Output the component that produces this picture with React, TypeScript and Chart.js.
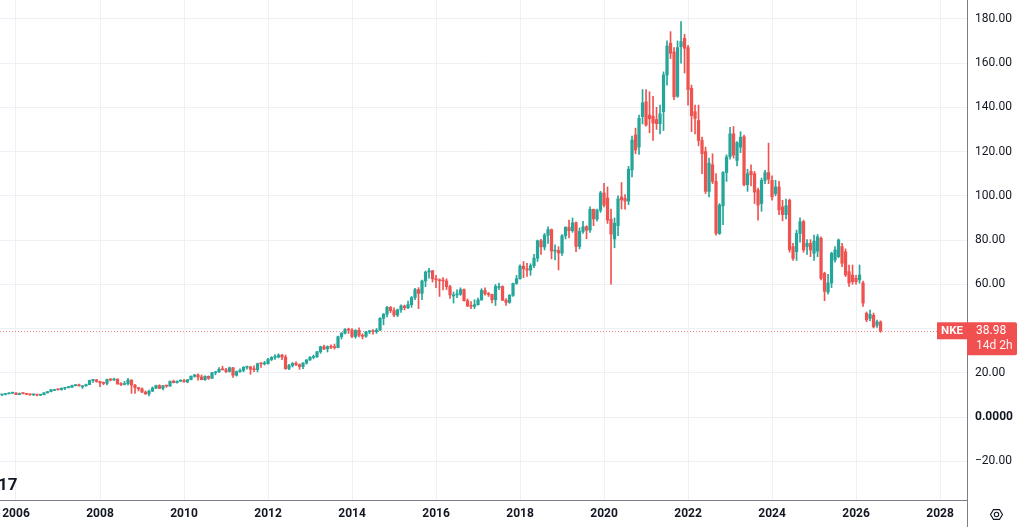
import React, { useEffect, useRef } from "react";
import { Chart, registerables } from "chart.js";

Chart.register(...registerables);

// ---- data (monthly candles, NKE) ----
const SYMBOL = "NKE";
const COUNTDOWN = "14d 2h";
const START_YEAR = 2005;
const START_MONTH = 9; // first candle: Sep 2005

const yearTicks = [2006, 2008, 2010, 2012, 2014, 2016, 2018, 2020, 2022, 2024, 2026, 2028];
const priceTicks = [-20, 0, 20, 40, 60, 80, 100, 120, 140, 160, 180];

const opens = [
  10.0, 10.2, 10.5, 10.8,
  10.85, 10.15, 10.65, 10.6, 10.2, 10.05, 10.1, 9.9, 10.1, 10.95, 11.5, 12.4,
  12.4, 12.35, 13.0, 13.3, 13.45, 14.2, 14.6, 14.1, 14.1, 14.65, 16.55, 16.8,
  16.05, 15.45, 15.2, 17.0, 16.7, 17.1, 14.9, 14.7, 15.1, 16.7, 14.4, 13.3,
  12.75, 11.3, 10.45, 11.7, 13.1, 14.25, 12.95, 14.15, 14.0, 16.2, 15.55, 16.2,
  16.5, 15.9, 16.9, 18.4, 19.0, 18.1, 16.9, 18.4, 17.5, 20.0, 20.4, 21.6,
  21.35, 20.6, 22.25, 18.9, 20.6, 21.1, 22.5, 22.6, 21.6, 21.4, 24.1, 24.0,
  24.1, 26.0, 27.0, 27.1, 28.0, 27.1, 21.9, 23.3, 24.3, 23.7, 22.8, 24.4,
  25.8, 27.0, 27.2, 29.5, 31.8, 30.8, 31.8, 31.5, 31.4, 36.3, 37.9, 39.6,
  39.3, 36.4, 39.2, 36.9, 36.5, 38.5, 38.8, 38.6, 39.3, 44.6, 46.5, 49.6,
  48.1, 46.1, 48.5, 50.2, 49.4, 50.8, 54.0, 57.6, 55.9, 61.5, 65.5, 66.1,
  62.5, 62.0, 61.6, 61.5, 58.9, 55.2, 55.2, 55.5, 57.6, 52.6, 50.2, 50.0,
  50.8, 52.9, 57.2, 55.7, 55.4, 53.0, 59.0, 59.0, 52.8, 51.8, 55.0, 60.4,
  62.5, 68.2, 67.0, 66.4, 68.4, 71.8, 79.7, 76.9, 82.2, 84.7, 75.0, 75.3,
  74.1, 81.9, 85.8, 84.2, 87.8, 77.1, 83.9, 86.0, 84.5, 93.9, 89.5, 93.5,
  101.3, 99.0, 89.4, 80.5, 86.5, 99.5, 98.8, 97.6, 111.7, 127.5, 122.0, 135.8,
  142.5, 136.5, 136.0, 134.5, 132.6, 138.0, 154.6, 169.0, 165.0, 145.0, 167.4, 171.2,
  167.0, 148.6, 138.0, 134.0, 125.0, 120.0, 102.0, 114.0, 106.5, 83.0, 95.5, 110.5,
  117.7, 128.0, 116.0, 122.0, 126.7, 105.0, 111.0, 110.0, 102.6, 96.5, 107.0, 110.5,
  107.0, 101.0, 104.0, 95.0, 91.5, 98.0, 77.0, 74.7, 83.0, 88.3, 77.0, 78.5,
  74.0, 75.0, 80.8, 65.0, 56.5, 60.6, 71.0, 72.5, 77.0, 74.7, 65.7, 64.2,
  62.7, 62.0, 60.6, 46.9, 44.6, 46.0, 41.5, 43.0,
];

const highs = [
  10.3, 10.6, 10.9, 11.1,
  11.0, 10.9, 10.9, 10.8, 10.4, 10.3, 10.2, 10.2, 11.0, 11.6, 12.45, 12.6,
  12.6, 13.2, 13.4, 13.8, 14.4, 14.7, 14.9, 14.3, 14.9, 16.7, 16.9, 17.0,
  16.2, 15.9, 17.2, 17.4, 17.6, 17.3, 15.6, 16.1, 17.5, 16.9, 14.8, 13.4,
  13.2, 11.8, 12.2, 13.6, 14.5, 14.6, 14.3, 14.4, 16.3, 16.7, 16.4, 16.9,
  17.0, 17.0, 18.6, 19.3, 19.5, 19.0, 18.6, 18.6, 20.2, 20.6, 22.4, 23.0,
  22.0, 22.6, 22.5, 20.8, 21.8, 22.8, 23.0, 23.0, 23.2, 24.4, 24.6, 25.2,
  26.5, 27.3, 28.2, 28.6, 28.3, 28.0, 23.8, 24.6, 25.0, 24.0, 24.6, 26.0,
  27.3, 28.0, 29.7, 32.0, 32.5, 32.2, 32.6, 33.0, 36.6, 38.2, 40.0, 40.2,
  40.0, 39.5, 40.3, 37.6, 38.7, 39.2, 39.5, 40.0, 45.0, 46.8, 50.0, 50.0,
  49.4, 48.8, 50.7, 50.6, 52.4, 54.5, 58.2, 58.5, 61.9, 66.0, 67.2, 66.3,
  64.0, 62.5, 63.0, 62.5, 59.5, 56.5, 57.5, 58.4, 58.0, 53.4, 52.2, 53.0,
  53.8, 58.0, 58.4, 56.3, 55.6, 59.9, 60.5, 59.3, 53.5, 55.4, 60.6, 64.0,
  68.8, 70.3, 69.5, 69.3, 73.5, 80.0, 80.3, 83.0, 86.0, 85.0, 77.8, 77.0,
  82.5, 86.0, 89.0, 90.0, 88.2, 85.5, 88.5, 86.5, 95.0, 94.0, 94.0, 102.0,
  105.6, 104.0, 94.0, 90.0, 100.0, 106.0, 100.5, 113.3, 127.0, 130.6, 136.5, 148.0,
  148.0, 147.0, 145.0, 140.0, 141.0, 156.0, 170.0, 174.2, 167.0, 170.0, 178.7, 173.0,
  168.0, 150.0, 141.0, 141.0, 126.5, 122.0, 117.0, 119.0, 110.0, 96.5, 111.0, 118.5,
  131.0, 131.3, 124.5, 129.0, 127.5, 112.0, 114.0, 111.0, 103.5, 108.0, 111.5, 123.8,
  109.0, 107.0, 106.5, 98.0, 98.5, 98.5, 78.5, 84.5, 90.0, 89.0, 80.2, 80.2,
  82.3, 82.5, 81.5, 65.5, 64.5, 74.5, 77.0, 80.5, 78.5, 76.0, 68.7, 68.7,
  64.0, 68.7, 61.5, 47.5, 48.3, 47.0, 43.8, 43.5,
];

const lows = [
  9.7, 10.0, 10.4, 10.6,
  10.1, 10.1, 10.5, 10.1, 9.8, 9.7, 9.6, 9.65, 10.0, 10.8, 11.4, 12.1,
  12.1, 12.2, 12.4, 13.1, 13.4, 14.0, 14.0, 12.9, 13.9, 14.6, 15.7, 15.7,
  13.7, 14.6, 14.5, 16.3, 16.5, 14.9, 14.2, 14.5, 14.5, 10.7, 10.7, 11.8,
  11.0, 10.2, 9.56, 11.5, 12.8, 12.8, 12.3, 13.4, 13.8, 15.4, 15.3, 16.0,
  15.8, 15.5, 16.8, 18.0, 16.7, 16.8, 16.5, 17.0, 17.4, 19.1, 20.2, 21.2,
  20.0, 20.3, 17.9, 18.5, 20.2, 20.4, 21.6, 19.3, 20.5, 20.4, 22.4, 23.5,
  23.9, 25.5, 26.0, 26.7, 25.9, 21.5, 21.4, 22.6, 23.2, 21.6, 21.9, 23.9,
  25.6, 26.3, 27.0, 28.8, 30.4, 29.4, 30.9, 30.7, 31.2, 35.2, 37.6, 37.8,
  35.9, 35.6, 36.2, 35.3, 36.0, 37.7, 37.4, 37.8, 39.0, 41.7, 45.3, 47.2,
  45.4, 45.4, 47.3, 48.4, 49.0, 49.6, 53.0, 49.0, 53.0, 58.9, 62.8, 61.0,
  58.5, 54.5, 57.5, 57.6, 53.6, 51.5, 54.0, 55.0, 52.4, 49.9, 49.0, 49.0,
  50.6, 52.8, 55.1, 54.5, 51.6, 50.4, 57.6, 52.6, 50.4, 51.4, 54.5, 60.0,
  62.3, 63.0, 63.6, 64.1, 67.5, 70.3, 73.5, 75.5, 78.5, 71.5, 71.0, 66.5,
  73.0, 80.5, 81.0, 83.5, 74.8, 76.0, 83.0, 80.6, 83.5, 86.5, 88.5, 92.5,
  95.0, 87.5, 60.0, 76.5, 82.0, 94.0, 94.0, 96.0, 108.5, 119.0, 118.7, 132.5,
  131.5, 128.5, 125.0, 130.0, 128.0, 129.5, 150.0, 162.0, 143.5, 144.5, 160.0, 155.5,
  141.0, 129.0, 128.0, 122.6, 110.0, 101.0, 99.5, 105.5, 82.2, 82.5, 87.0, 106.5,
  116.5, 117.0, 113.5, 119.5, 104.5, 102.0, 104.5, 96.5, 89.0, 93.0, 105.5, 105.5,
  98.0, 100.0, 91.5, 88.7, 89.5, 74.5, 70.8, 70.8, 79.0, 74.5, 73.5, 72.5,
  70.8, 72.5, 62.0, 52.6, 55.5, 58.5, 70.0, 72.0, 68.0, 63.5, 59.0, 60.0,
  60.0, 60.5, 50.0, 43.1, 43.5, 40.3, 40.5, 38.3,
];

const closes = [
  10.2, 10.5, 10.8, 10.85,
  10.15, 10.65, 10.6, 10.2, 10.05, 10.1, 9.9, 10.1, 10.95, 11.5, 12.4, 12.4,
  12.35, 13.0, 13.3, 13.45, 14.2, 14.6, 14.1, 14.1, 14.65, 16.55, 16.8, 16.05,
  15.45, 15.2, 17.0, 16.7, 17.1, 14.9, 14.7, 15.1, 16.7, 14.4, 13.3, 12.75,
  11.3, 10.45, 11.7, 13.1, 14.25, 12.95, 14.15, 14.0, 16.2, 15.55, 16.2, 16.5,
  15.9, 16.9, 18.4, 19.0, 18.1, 16.9, 18.4, 17.5, 20.0, 20.4, 21.6, 21.35,
  20.6, 22.25, 18.9, 20.6, 21.1, 22.5, 22.6, 21.6, 21.4, 24.1, 24.0, 24.1,
  26.0, 27.0, 27.1, 28.0, 27.1, 21.9, 23.3, 24.3, 23.7, 22.8, 24.4, 25.8,
  27.0, 27.2, 29.5, 31.8, 30.8, 31.8, 31.5, 31.4, 36.3, 37.9, 39.6, 39.3,
  36.4, 39.2, 36.9, 36.5, 38.5, 38.8, 38.6, 39.3, 44.6, 46.5, 49.6, 48.1,
  46.1, 48.5, 50.2, 49.4, 50.8, 54.0, 57.6, 55.9, 61.5, 65.5, 66.1, 62.5,
  62.0, 61.6, 61.5, 58.9, 55.2, 55.2, 55.5, 57.6, 52.6, 50.2, 50.0, 50.8,
  52.9, 57.2, 55.7, 55.4, 53.0, 59.0, 59.0, 52.8, 51.8, 55.0, 60.4, 62.5,
  68.2, 67.0, 66.4, 68.4, 71.8, 79.7, 76.9, 82.2, 84.7, 75.0, 75.3, 74.1,
  81.9, 85.8, 84.2, 87.8, 77.1, 83.9, 86.0, 84.5, 93.9, 89.5, 93.5, 101.3,
  95.8, 89.0, 82.7, 87.6, 98.6, 98.1, 97.6, 112.0, 125.2, 120.7, 135.0, 142.0,
  132.0, 134.8, 132.9, 132.6, 137.0, 154.6, 167.7, 164.4, 144.8, 167.0, 169.7, 166.7,
  148.0, 136.2, 135.0, 125.0, 119.0, 102.0, 114.7, 106.5, 83.0, 95.8, 110.5, 117.5,
  128.0, 118.4, 124.0, 126.5, 105.0, 110.0, 109.5, 101.7, 95.8, 107.0, 110.5, 107.5,
  99.5, 104.0, 93.6, 91.5, 95.5, 75.6, 71.7, 83.0, 88.3, 75.5, 78.5, 75.5,
  79.5, 81.5, 62.7, 56.8, 60.6, 74.0, 75.5, 80.0, 69.5, 64.2, 60.6, 61.2,
  61.2, 64.2, 51.5, 43.9, 46.4, 40.8, 43.0, 38.98,
];

// ---- styling ----
const UP = "#26a69a";
const DOWN = "#ef5350";
const TAG = "#f0504f";
const DOTS = "#f28b8a";
const GRID = "#eef0f5";
const AXIS_LINE = "#7b7e86";
const TEXT = "#131722";
const FONT = "Roboto, 'Liberation Sans', sans-serif";

// axis ranges (months since Jan 2006, price)
const X_MIN = -4.57;
const X_MAX = 271.7;
const Y_MIN = -37.5;
const Y_MAX = 188.5;

const monthIndex = (i: number) => (START_YEAR - 2006) * 12 + (START_MONTH - 1) + i;

function fmtPrice(v: number) {
  if (v === 0) return "0.0000";
  const s = Math.abs(v).toFixed(2);
  return v < 0 ? "\u2212" + s : s;
}

const overlayPlugin = {
  id: "tvOverlay",
  beforeDatasetsDraw(chart: any) {
    const { ctx, chartArea, scales } = chart;
    const last = closes[closes.length - 1];
    const py = Math.round(scales.y.getPixelForValue(last)) + 0.5;
    ctx.save();
    ctx.strokeStyle = DOTS;
    ctx.lineWidth = 1;
    ctx.setLineDash([1, 2]);
    ctx.beginPath();
    ctx.moveTo(chartArea.left, py);
    ctx.lineTo(chartArea.right - 30, py);
    ctx.stroke();
    ctx.restore();
  },
  afterDraw(chart: any) {
    const { ctx, chartArea, scales } = chart;
    const W = chart.width;
    const H = chart.height;
    const right = chartArea.right;
    const last = closes[closes.length - 1];
    const py = scales.y.getPixelForValue(last);
    ctx.save();
    // axis line extension below the time axis
    ctx.strokeStyle = AXIS_LINE;
    ctx.lineWidth = 1;
    ctx.beginPath();
    ctx.moveTo(Math.round(right) + 0.5, chartArea.bottom);
    ctx.lineTo(Math.round(right) + 0.5, H);
    ctx.stroke();

    // symbol tag
    ctx.fillStyle = TAG;
    ctx.fillRect(right - 30, py - 8.5, 30, 17);
    // price tag
    ctx.beginPath();
    (ctx as any).roundRect(right, py - 8.5, 50, 33, [0, 2, 2, 0]);
    ctx.fill();
    ctx.fillStyle = "#ffffff";
    ctx.textBaseline = "middle";
    ctx.font = `bold 11.5px ${FONT}`;
    ctx.textAlign = "center";
    ctx.fillText(SYMBOL, right - 15, py + 0.5);
    ctx.font = `12px ${FONT}`;
    ctx.textAlign = "left";
    ctx.fillText(last.toFixed(2), right + 9, py + 0.5);
    ctx.fillStyle = "rgba(255,255,255,0.92)";
    ctx.fillText(COUNTDOWN, right + 9, py + 15.5);

    // logo (cropped)
    ctx.fillStyle = TEXT;
    ctx.font = `bold 17px ${FONT}`;
    ctx.textAlign = "left";
    ctx.textBaseline = "alphabetic";
    ctx.fillText("17", -2, 490);

    // settings icon
    const cx = right + (W - right) / 2 + 1;
    const cy = chartArea.bottom + (H - chartArea.bottom) / 2 + 1;
    ctx.strokeStyle = TEXT;
    ctx.lineWidth = 1.1;
    ctx.beginPath();
    for (let k = 0; k < 6; k++) {
      const a = (Math.PI / 3) * k;
      const x = cx + 6 * Math.cos(a);
      const y = cy + 5.6 * Math.sin(a);
      if (k === 0) ctx.moveTo(x, y);
      else ctx.lineTo(x, y);
    }
    ctx.closePath();
    ctx.stroke();
    ctx.beginPath();
    ctx.arc(cx, cy, 2.2, 0, Math.PI * 2);
    ctx.stroke();
    ctx.restore();
  },
};

export default function App() {
  const canvasRef = useRef<HTMLCanvasElement | null>(null);

  useEffect(() => {
    const canvas = canvasRef.current;
    if (!canvas) return;
    const colors = opens.map((o, i) => (closes[i] >= o ? UP : DOWN));
    const wickData = opens.map((_, i) => ({ x: monthIndex(i), y: [lows[i], highs[i]] }));
    const bodyData = opens.map((o, i) => ({ x: monthIndex(i), y: [o, closes[i]] }));

    const chart = new Chart(canvas, {
      type: "bar",
      data: {
        datasets: [
          {
            label: "wick",
            data: wickData as any,
            backgroundColor: colors,
            barThickness: 1,
            grouped: false,
            borderWidth: 0,
            borderSkipped: false,
            order: 2,
          } as any,
          {
            label: "body",
            data: bodyData as any,
            backgroundColor: colors,
            barThickness: 2.6,
            grouped: false,
            borderWidth: 0,
            borderSkipped: false,
            minBarLength: 1,
            order: 1,
          } as any,
        ],
      },
      options: {
        animation: false,
        responsive: false,
        maintainAspectRatio: false,
        layout: { padding: 0 },
        plugins: { legend: { display: false }, tooltip: { enabled: false } },
        scales: {
          x: {
            type: "linear",
            min: X_MIN,
            max: X_MAX,
            offset: false,
            grid: { color: GRID, drawTicks: false, tickLength: 0, offset: false },
            border: { display: true, color: AXIS_LINE, width: 1 },
            afterBuildTicks: (s: any) => {
              s.ticks = yearTicks.map((yr) => ({ value: (yr - 2006) * 12 }));
            },
            afterFit: (s: any) => {
              s.height = 27;
              s.paddingLeft = 0;
              s.paddingRight = 0;
            },
            ticks: {
              autoSkip: false,
              maxRotation: 0,
              padding: 7,
              color: TEXT,
              font: { family: FONT, size: 12, weight: "bold" },
              callback: (v: any) => String(2006 + Math.round(Number(v) / 12)),
            },
          } as any,
          y: {
            type: "linear",
            position: "right",
            min: Y_MIN,
            max: Y_MAX,
            grid: { color: GRID, drawTicks: false, tickLength: 0, offset: false },
            border: { display: true, color: AXIS_LINE, width: 1 },
            afterBuildTicks: (s: any) => {
              s.ticks = priceTicks.map((v) => ({ value: v }));
            },
            afterFit: (s: any) => {
              s.width = 57;
              s.paddingTop = 0;
              s.paddingBottom = 0;
            },
            ticks: {
              autoSkip: false,
              padding: 8,
              color: TEXT,
              font: (c: any) => ({
                family: FONT,
                size: 12,
                weight: c.tick && c.tick.value === 0 ? "bold" : "normal",
              }),
              callback: (v: any) => fmtPrice(Number(v)),
            },
          } as any,
        },
      },
      plugins: [overlayPlugin],
    });
    return () => chart.destroy();
  }, []);

  return (
    <div style={{ position: "absolute", left: 0, top: 0, width: 1024, height: 527, background: "#ffffff" }}>
      <canvas ref={canvasRef} width={1024} height={527} style={{ display: "block", width: 1024, height: 527 }} />
    </div>
  );
}
